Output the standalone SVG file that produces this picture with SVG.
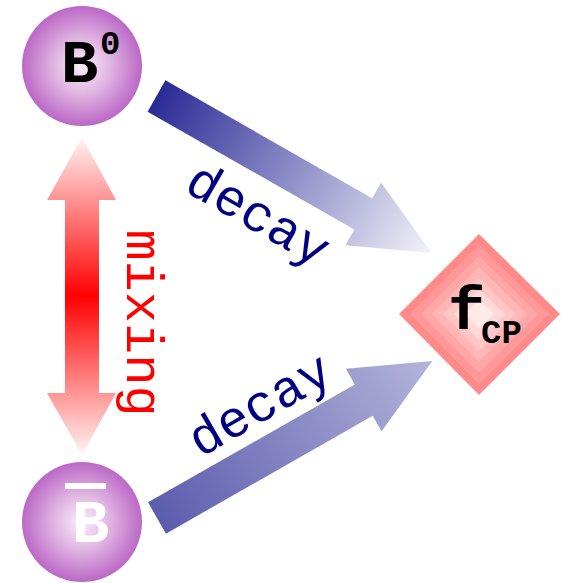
<svg xmlns="http://www.w3.org/2000/svg" width="565" height="583" viewBox="0 0 565 583">
<defs>
  <radialGradient id="ball" cx="0.5" cy="0.5" r="0.5">
    <stop offset="0" stop-color="#fbf0fb"/>
    <stop offset="0.5" stop-color="#deb0e0"/>
    <stop offset="1" stop-color="#bb68c6"/>
  </radialGradient>
  <linearGradient id="mixGrad" gradientUnits="userSpaceOnUse" x1="0" y1="137" x2="0" y2="455">
    <stop offset="0" stop-color="#fff4f4"/>
    <stop offset="0.5" stop-color="#ff0000"/>
    <stop offset="1" stop-color="#fff4f4"/>
  </linearGradient>
  <linearGradient id="decUp" gradientUnits="userSpaceOnUse" x1="0" y1="0" x2="317" y2="0">
    <stop offset="0" stop-color="#2a2a96"/>
    <stop offset="1" stop-color="#f4f4fa"/>
  </linearGradient>
  <linearGradient id="decDown" gradientUnits="userSpaceOnUse" x1="0" y1="0" x2="317" y2="0">
    <stop offset="0" stop-color="#5c5cae"/>
    <stop offset="1" stop-color="#b4b4da"/>
  </linearGradient>
  <polygon id="fatArrow" points="0,-18 238,-18 238,-36 317,0 238,36 238,18 0,18"/>
  <style>
    .lbl { font-family: "Liberation Mono", "Courier New", monospace; }
    .node { font-family: "Liberation Mono", "Courier New", monospace; font-weight: bold; }
    .decay { font-size: 52px; fill: #000080; }
  </style>
</defs>
<rect width="565" height="583" fill="#ffffff"/>

<g id="connectors">
  <polygon id="mixing-arrow" fill="url(#mixGrad)" points="82,137 116,200 99,200 99,393 116,393 82,455 47,393 65,393 65,200 47,200"/>
  <g id="decay-upper" transform="translate(156.5,96) rotate(29.7)">
    <use href="#fatArrow" fill="url(#decUp)"/>
  </g>
  <g id="decay-lower" transform="translate(157,518) rotate(-29.7)">
    <use href="#fatArrow" fill="url(#decDown)"/>
  </g>
  <text class="lbl" font-size="52" fill="#ff0000" text-anchor="middle" transform="translate(127,323) rotate(90)">mixing</text>
  <text class="lbl decay" text-anchor="middle" transform="translate(250,229) rotate(30)">decay</text>
  <text class="lbl decay" text-anchor="middle" transform="translate(268,419) rotate(-30)">decay</text>
</g>

<g id="B0">
  <circle cx="82" cy="66" r="60" fill="url(#ball)"/>
  <text class="node" x="61" y="82" font-size="62" fill="#000000">B</text>
  <text class="node" x="100" y="54" font-size="34" fill="#000000">0</text>
</g>

<g id="Bbar">
  <circle cx="82" cy="522" r="60" fill="url(#ball)"/>
  <rect x="65" y="483" width="41" height="6" fill="#ffffff"/>
  <text class="node" x="72" y="542" font-size="62" fill="#ffffff">B</text>
</g>

<g id="fCP">
  <polygon points="479,234 560,314 479,395 399,314" fill="#ff8a8a"/>
  <polygon points="479,245 549,314 479,384 410,314" fill="#ff9898"/>
  <polygon points="479,256 538,314 479,373 421,314" fill="#ffa6a6"/>
  <polygon points="479,267 527,314 479,362 432,314" fill="#ffb6b6"/>
  <polygon points="479,278 516,314 479,351 443,314" fill="#ffc6c6"/>
  <polygon points="479,289 505,314 479,340 454,314" fill="#ffd8d8"/>
  <polygon points="479,300 494,314 479,329 465,314" fill="#ffeaea"/>
  <text class="node" x="448" y="329" font-size="62" fill="#000000">f</text>
  <text class="node" x="481" y="343" font-size="34" fill="#000000">CP</text>
</g>
</svg>
